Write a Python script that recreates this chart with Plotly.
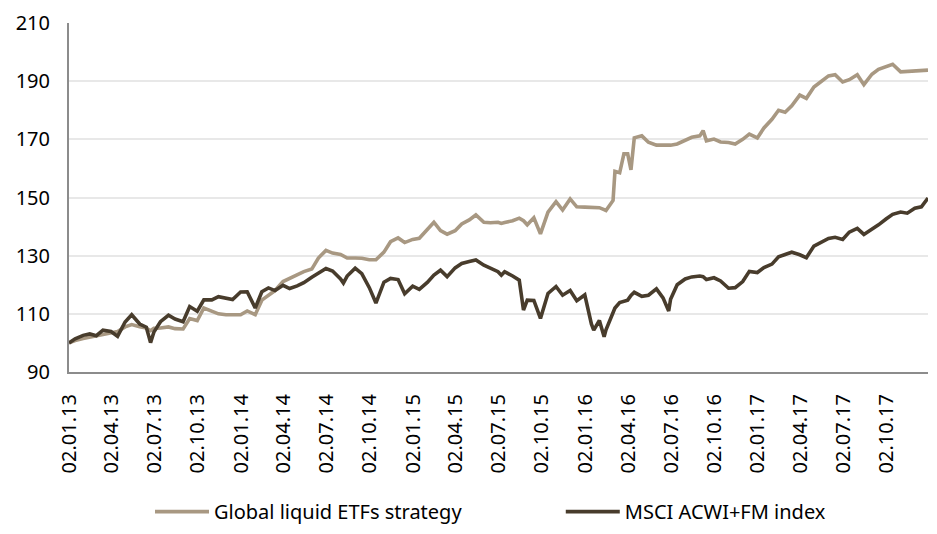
import plotly.graph_objects as go

dates = [
    "2013-01-02", "2013-01-15", "2013-02-01", "2013-02-15", "2013-03-01", "2013-03-15",
    "2013-04-01", "2013-04-15", "2013-05-01", "2013-05-15", "2013-06-01", "2013-06-15",
    "2013-06-24", "2013-07-01", "2013-07-15", "2013-08-01", "2013-08-15", "2013-09-01",
    "2013-09-15", "2013-10-01", "2013-10-15", "2013-11-01", "2013-11-15", "2013-12-01",
    "2013-12-15", "2014-01-01", "2014-01-15", "2014-02-01", "2014-02-15", "2014-03-01",
    "2014-03-15", "2014-04-01", "2014-04-15", "2014-05-01", "2014-05-15", "2014-06-01",
    "2014-06-15", "2014-07-01", "2014-07-15", "2014-08-01", "2014-08-07", "2014-08-15",
    "2014-09-01", "2014-09-15", "2014-10-01", "2014-10-15", "2014-11-01", "2014-11-15",
    "2014-12-01", "2014-12-15", "2015-01-01", "2015-01-15", "2015-02-01", "2015-02-15",
    "2015-03-01", "2015-03-15", "2015-04-01", "2015-04-15", "2015-05-01", "2015-05-15",
    "2015-06-01", "2015-06-15", "2015-07-01", "2015-07-08", "2015-07-15", "2015-08-01",
    "2015-08-15", "2015-08-24", "2015-09-01", "2015-09-15", "2015-09-29", "2015-10-15",
    "2015-11-01", "2015-11-15", "2015-12-01", "2015-12-15", "2016-01-01", "2016-01-15",
    "2016-01-20", "2016-02-01", "2016-02-11", "2016-02-15", "2016-03-01", "2016-03-05",
    "2016-03-15", "2016-03-24", "2016-04-01", "2016-04-08", "2016-04-15", "2016-05-01",
    "2016-05-15", "2016-06-01", "2016-06-15", "2016-06-27", "2016-07-01", "2016-07-15",
    "2016-08-01", "2016-08-15", "2016-09-01", "2016-09-08", "2016-09-15", "2016-10-01",
    "2016-10-15", "2016-11-01", "2016-11-15", "2016-12-01", "2016-12-15", "2017-01-01",
    "2017-01-15", "2017-02-01", "2017-02-15", "2017-03-01", "2017-03-15", "2017-04-01",
    "2017-04-15", "2017-05-01", "2017-05-15", "2017-06-01", "2017-06-15", "2017-07-01",
    "2017-07-15", "2017-08-01", "2017-08-15", "2017-09-01", "2017-09-15", "2017-10-01",
    "2017-10-15", "2017-11-01", "2017-11-15", "2017-12-01", "2017-12-15", "2017-12-29",
]

etf_strategy = [
    100.0, 100.8, 101.5, 102.0, 102.6, 103.1,
    103.6, 103.9, 105.5, 106.3, 105.6, 105.1,
    104.2, 105.0, 105.1, 105.5, 104.9, 104.8,
    108.4, 107.7, 112.0, 110.9, 110.0, 109.7,
    109.7, 109.7, 111.0, 109.7, 114.7, 116.5,
    118.0, 121.1, 122.2, 123.4, 124.5, 125.4,
    129.2, 131.8, 130.9, 130.4, 129.8, 129.2,
    129.2, 129.1, 128.6, 128.6, 131.2, 134.8,
    136.1, 134.5, 135.6, 136.0, 139.0, 141.5,
    138.6, 137.4, 138.6, 140.9, 142.3, 144.0,
    141.5, 141.3, 141.5, 141.1, 141.4, 142.0,
    142.9, 142.0, 140.6, 143.0, 137.5, 145.0,
    148.6, 145.7, 149.5, 146.8, 146.7, 146.7,
    146.7, 146.5, 145.8, 145.5, 149.0, 159.0,
    158.5, 165.0, 165.0, 159.5, 170.5, 171.2,
    169.0, 168.0, 168.0, 168.0, 168.0, 168.4,
    169.5, 170.7, 171.2, 173.0, 169.5, 170.1,
    169.1, 168.9, 168.4, 170.0, 171.8, 170.5,
    173.9, 176.9, 180.0, 179.3, 181.5, 185.2,
    184.1, 188.0, 189.7, 191.8, 192.2, 189.7,
    190.5, 192.2, 188.8, 192.4, 194.1, 194.9,
    195.8, 193.2, 193.4, 193.7, 193.8, 193.8,
]

msci_index = [
    100.0, 101.4, 102.6, 103.1, 102.5, 104.4,
    103.9, 102.3, 107.2, 109.7, 106.5, 105.4,
    100.1, 103.7, 107.3, 109.5, 108.2, 107.3,
    112.5, 110.9, 114.8, 114.8, 115.9, 115.2,
    114.9, 117.5, 117.6, 112.0, 117.6, 118.9,
    118.0, 119.8, 118.7, 119.6, 120.7, 122.6,
    123.9, 125.6, 124.7, 122.0, 120.6, 123.0,
    125.7, 123.8, 119.0, 113.7, 120.9, 122.2,
    121.8, 116.9, 119.5, 118.4, 120.8, 123.3,
    125.0, 122.8, 125.8, 127.3, 128.0, 128.5,
    126.7, 125.8, 124.5, 123.3, 124.5, 123.0,
    121.6, 111.3, 114.7, 114.6, 108.4, 117.0,
    119.4, 116.4, 118.0, 114.5, 116.5, 106.5,
    104.4, 107.7, 102.1, 104.5, 111.1, 112.0,
    113.9, 114.3, 114.7, 116.3, 117.4, 116.0,
    116.4, 118.6, 115.5, 111.0, 115.0, 120.0,
    122.0, 122.7, 123.0, 122.8, 121.8, 122.4,
    121.3, 118.8, 119.0, 121.1, 124.6, 124.2,
    125.9, 127.1, 129.6, 130.4, 131.2, 130.3,
    129.3, 133.3, 134.5, 135.9, 136.3, 135.6,
    138.1, 139.4, 137.3, 139.0, 140.6, 142.6,
    144.2, 145.0, 144.6, 146.3, 146.8, 149.8,
]

tick_dates = [
    "2013-01-02", "2013-04-02", "2013-07-02", "2013-10-02",
    "2014-01-02", "2014-04-02", "2014-07-02", "2014-10-02",
    "2015-01-02", "2015-04-02", "2015-07-02", "2015-10-02",
    "2016-01-02", "2016-04-02", "2016-07-02", "2016-10-02",
    "2017-01-02", "2017-04-02", "2017-07-02", "2017-10-02",
]
tick_labels = [
    "02.01.13", "02.04.13", "02.07.13", "02.10.13",
    "02.01.14", "02.04.14", "02.07.14", "02.10.14",
    "02.01.15", "02.04.15", "02.07.15", "02.10.15",
    "02.01.16", "02.04.16", "02.07.16", "02.10.16",
    "02.01.17", "02.04.17", "02.07.17", "02.10.17",
]

FONT = "Noto Sans, Open Sans, sans-serif"
TICK_SIZE = 20
LEG_SIZE = 20

fig = go.Figure()
fig.add_trace(go.Scatter(
    x=dates, y=etf_strategy, mode="lines", name="Global liquid ETFs strategy",
    line=dict(color="#A89882", width=3.6), legend="legend",
))
fig.add_trace(go.Scatter(
    x=dates, y=msci_index, mode="lines", name="MSCI ACWI+FM index",
    line=dict(color="#483C2C", width=3.6), legend="legend2",
))

leg_common = dict(
    orientation="h", yanchor="middle", y=-0.40, xanchor="left",
    font=dict(family=FONT, size=LEG_SIZE, color="#000000"),
    bgcolor="rgba(0,0,0,0)", itemwidth=54,
)

fig.update_layout(
    width=937, height=534,
    margin=dict(l=69, r=9, t=23, b=162, autoexpand=False),
    paper_bgcolor="white", plot_bgcolor="white",
    font=dict(family=FONT, size=TICK_SIZE, color="#000000"),
    showlegend=True,
    legend=dict(x=0.0943, **leg_common),
    legend2=dict(x=0.5725, **leg_common),
)
fig.update_xaxes(
    type="date", automargin=False,
    range=["2013-01-02", "2017-12-29"],
    tickmode="array", tickvals=tick_dates, ticktext=tick_labels,
    tickangle=-90, ticks="", ticklabelstandoff=12,
    showgrid=False, showline=True, linecolor="#8C8C8C", linewidth=2,
    zeroline=False, tickfont=dict(family=FONT, size=TICK_SIZE, color="#000000"),
)
fig.update_yaxes(
    range=[90, 210], dtick=20, tick0=90, automargin=False,
    showgrid=True, gridcolor="#E8E8E8", gridwidth=2,
    showline=True, linecolor="#8C8C8C", linewidth=2,
    zeroline=False, ticks="", ticklabelstandoff=13,
    tickfont=dict(family=FONT, size=TICK_SIZE, color="#000000"),
)

fig.write_html(
    "out.html",
    config={"displayModeBar": False},
    post_script="document.body.style.margin='0';document.body.style.overflow='hidden';",
)
